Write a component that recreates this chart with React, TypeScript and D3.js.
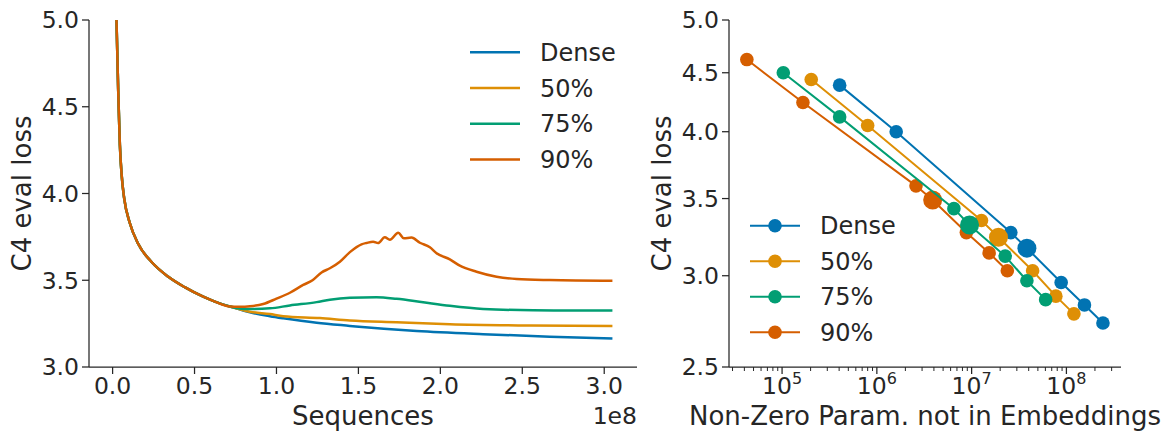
import React from "react";
import * as d3 from "d3";

// ---------- shared ----------
const seriesNames = ["Dense", "50%", "75%", "90%"];
const seriesColors = ["#0173B2", "#DE8F05", "#029E73", "#D55E00"];

// ---------- left panel: loss vs sequences (x in units of 1e8) ----------
const warmupSeq = [0.016, 0.024, 0.034, 0.04, 0.0445, 0.055, 0.071, 0.105, 0.156, 0.238, 0.34, 0.44, 0.553, 0.624, 0.716];
const warmupLoss = [5.4, 4.99, 4.6, 4.41, 4.28, 4.11, 3.97, 3.83, 3.71, 3.605, 3.52, 3.46, 3.405, 3.377, 3.349];

const denseSeq = [0.838, 0.96, 1.041, 1.245, 1.448, 1.655, 1.855, 2.261, 2.668, 3.05];
const denseLoss = [3.315, 3.293, 3.281, 3.255, 3.237, 3.22, 3.207, 3.189, 3.175, 3.164];

const sparse50Seq = [0.838, 0.96, 1.041, 1.265, 1.448, 1.733, 2.058, 2.546, 3.05];
const sparse50Loss = [3.319, 3.305, 3.293, 3.282, 3.268, 3.258, 3.247, 3.239, 3.236];

const sparse75Seq = [0.818, 0.96, 1.082, 1.245, 1.326, 1.448, 1.61, 1.733, 1.895, 2.058, 2.261, 2.566, 3.05];
const sparse75Loss = [3.334, 3.338, 3.355, 3.374, 3.388, 3.399, 3.402, 3.393, 3.373, 3.353, 3.335, 3.327, 3.325];

const sparse90Seq = [0.777, 0.838, 0.919, 1.0, 1.082, 1.163, 1.22, 1.275, 1.326, 1.387, 1.448, 1.519, 1.55, 1.59, 1.62, 1.661, 1.692, 1.743, 1.777, 1.824, 1.875, 1.936, 1.977, 2.058, 2.119, 2.221, 2.343, 2.465, 2.668, 3.05];
const sparse90Loss = [3.347, 3.35, 3.363, 3.394, 3.428, 3.473, 3.5, 3.545, 3.569, 3.607, 3.662, 3.707, 3.715, 3.722, 3.714, 3.748, 3.734, 3.774, 3.742, 3.746, 3.716, 3.69, 3.656, 3.62, 3.584, 3.549, 3.52, 3.507, 3.501, 3.497];

const leftXTicks = [0.0, 0.5, 1.0, 1.5, 2.0, 2.5, 3.0];
const leftYTicks = [3.0, 3.5, 4.0, 4.5, 5.0];

// ---------- right panel: loss vs non-zero params ----------
const denseParams = [4.05e5, 1.6e6, 2.59e7, 3.83e7, 8.8e7, 1.55e8, 2.43e8];
const denseFinal = [4.39, 4.0, 3.27, 3.17, 2.96, 2.83, 2.73];
const sparse50Params = [2.03e5, 8.0e5, 1.27e7, 1.92e7, 4.4e7, 7.74e7, 1.2e8];
const sparse50Final = [4.44, 4.05, 3.35, 3.24, 3.03, 2.88, 2.78];
const sparse75Params = [1.03e5, 4.05e5, 6.5e6, 9.5e6, 2.26e7, 3.83e7, 6.04e7];
const sparse75Final = [4.5, 4.12, 3.43, 3.32, 3.12, 2.97, 2.86];
const sparse90Params = [4.25e4, 1.66e5, 2.59e6, 3.88e6, 8.8e6, 1.53e7, 2.38e7];
const sparse90Final = [4.62, 4.24, 3.59, 3.49, 3.27, 3.14, 3.03];
const highlightIndex = [3, 3, 3, 3];

const rightXTicks = [1e5, 1e6, 1e7, 1e8];
const rightXExponents = ["5", "6", "7", "8"];
const rightYTicks = [2.5, 3.0, 3.5, 4.0, 4.5, 5.0];

const FONT = "DejaVu Sans, sans-serif";
const INK = "#262626";
const TICK_FS = 23.5;

export default function App() {
  const L = { x0: 89, x1: 637, y0: 20, y1: 367 };
  const xL = d3.scaleLinear().domain([-0.144, 3.2]).range([L.x0, L.x1]);
  const yL = d3.scaleLinear().domain([3.0, 5.0]).range([L.y1, L.y0]);

  const R = { x0: 729, x1: 1121, y0: 20, y1: 367 };
  const xR = d3.scaleLog().domain([Math.pow(10, 4.44), Math.pow(10, 8.576)]).range([R.x0, R.x1]);
  const yR = d3.scaleLog().domain([2.5, 5.0]).range([R.y1, R.y0]);

  const leftSeries = [
    [denseSeq, denseLoss],
    [sparse50Seq, sparse50Loss],
    [sparse75Seq, sparse75Loss],
    [sparse90Seq, sparse90Loss],
  ].map(([xs, ys]) => {
    const pts: [number, number][] = warmupSeq.map((x, i) => [x, warmupLoss[i]]);
    xs.forEach((x, i) => pts.push([x, ys[i]]));
    return pts;
  });

  const rightSeries = [
    [denseParams, denseFinal],
    [sparse50Params, sparse50Final],
    [sparse75Params, sparse75Final],
    [sparse90Params, sparse90Final],
  ].map(([xs, ys]) => xs.map((x, i) => [x, ys[i]] as [number, number]));

  const lineL = d3.line<[number, number]>().x((d) => xL(d[0])).y((d) => yL(d[1])).curve(d3.curveMonotoneX);
  const lineR = d3.line<[number, number]>().x((d) => xR(d[0])).y((d) => yR(d[1]));

  const minorTicks: number[] = [];
  for (let e = 4; e <= 8; e++) {
    for (let m = 2; m <= 9; m++) {
      const v = m * Math.pow(10, e);
      if (v >= xR.domain()[0] && v <= xR.domain()[1]) minorTicks.push(v);
    }
  }

  const drawOrderRight = [0, 1, 3, 2];

  return (
    <svg
      width={1174}
      height={432}
      style={{ position: "absolute", left: 0, top: 0, background: "#fff" }}
      fontFamily={FONT}
    >
      <defs>
        <clipPath id="clipL">
          <rect x={L.x0} y={L.y0} width={L.x1 - L.x0} height={L.y1 - L.y0} />
        </clipPath>
      </defs>

      {/* ---------------- LEFT PANEL ---------------- */}
      <g clipPath="url(#clipL)">
        {leftSeries.map((pts, i) => (
          <path key={i} d={lineL(pts) || ""} fill="none" stroke={seriesColors[i]} strokeWidth={2.5} strokeLinejoin="round" />
        ))}
      </g>
      <line x1={L.x0} x2={L.x0} y1={L.y0} y2={L.y1} stroke={INK} strokeWidth={1.25} />
      <line x1={L.x0} x2={L.x1} y1={L.y1} y2={L.y1} stroke={INK} strokeWidth={1.25} />
      {leftYTicks.map((t) => (
        <g key={t}>
          <line x1={L.x0 - 7} x2={L.x0} y1={yL(t)} y2={yL(t)} stroke={INK} strokeWidth={1.25} />
          <text x={L.x0 - 10} y={yL(t)} dy="0.36em" textAnchor="end" fontSize={TICK_FS} fill={INK}>
            {t.toFixed(1)}
          </text>
        </g>
      ))}
      {leftXTicks.map((t) => (
        <g key={t}>
          <line x1={xL(t)} x2={xL(t)} y1={L.y1} y2={L.y1 + 7} stroke={INK} strokeWidth={1.25} />
          <text x={xL(t)} y={394} textAnchor="middle" fontSize={TICK_FS} fill={INK}>
            {t.toFixed(1)}
          </text>
        </g>
      ))}
      <text x={L.x1} y={424} textAnchor="end" fontSize={TICK_FS} fill={INK}>1e8</text>
      <text x={(L.x0 + L.x1) / 2} y={425} textAnchor="middle" fontSize={26} fill={INK}>Sequences</text>
      <text transform={`translate(31,${(L.y0 + L.y1) / 2}) rotate(-90)`} textAnchor="middle" fontSize={26} fill={INK}>
        C4 eval loss
      </text>
      {seriesNames.map((n, i) => {
        const y = 52.3 + i * 35.7;
        return (
          <g key={n}>
            <line x1={470} x2={520} y1={y} y2={y} stroke={seriesColors[i]} strokeWidth={2.5} />
            <text x={540} y={y} dy="0.36em" fontSize={24} fill={INK}>{n}</text>
          </g>
        );
      })}

      {/* ---------------- RIGHT PANEL ---------------- */}
      {drawOrderRight.map((i) => (
        <g key={i}>
          <path d={lineR(rightSeries[i]) || ""} fill="none" stroke={seriesColors[i]} strokeWidth={2} />
          {rightSeries[i].map((d, j) => (
            <circle key={j} cx={xR(d[0])} cy={yR(d[1])} r={j === highlightIndex[i] ? 9.5 : 6.8} fill={seriesColors[i]} />
          ))}
        </g>
      ))}
      <line x1={R.x0} x2={R.x0} y1={R.y0} y2={R.y1} stroke={INK} strokeWidth={1.25} />
      <line x1={R.x0} x2={R.x1} y1={R.y1} y2={R.y1} stroke={INK} strokeWidth={1.25} />
      {rightYTicks.map((t) => (
        <g key={t}>
          <line x1={R.x0 - 7} x2={R.x0} y1={yR(t)} y2={yR(t)} stroke={INK} strokeWidth={1.25} />
          <text x={R.x0 - 10} y={yR(t)} dy="0.36em" textAnchor="end" fontSize={TICK_FS} fill={INK}>
            {t.toFixed(1)}
          </text>
        </g>
      ))}
      {minorTicks.map((t) => (
        <line key={t} x1={xR(t)} x2={xR(t)} y1={R.y1} y2={R.y1 + 4} stroke={INK} strokeWidth={1} />
      ))}
      {rightXTicks.map((t, i) => (
        <g key={t}>
          <line x1={xR(t)} x2={xR(t)} y1={R.y1} y2={R.y1 + 7} stroke={INK} strokeWidth={1.25} />
          <text x={xR(t)} y={394} textAnchor="middle" fontSize={TICK_FS} fill={INK}>
            <tspan>10</tspan>
            <tspan dy={-10} fontSize={16}>{rightXExponents[i]}</tspan>
          </text>
        </g>
      ))}
      <text x={(R.x0 + R.x1) / 2} y={425} textAnchor="middle" fontSize={26} fill={INK}>
        Non-Zero Param. not in Embeddings
      </text>
      <text transform={`translate(671,${(R.y0 + R.y1) / 2}) rotate(-90)`} textAnchor="middle" fontSize={26} fill={INK}>
        C4 eval loss
      </text>
      {seriesNames.map((n, i) => {
        const y = 225.7 + i * 35.5;
        return (
          <g key={n}>
            <line x1={750} x2={800} y1={y} y2={y} stroke={seriesColors[i]} strokeWidth={2} />
            <circle cx={775} cy={y} r={6.8} fill={seriesColors[i]} />
            <text x={820} y={y} dy="0.36em" fontSize={24} fill={INK}>{n}</text>
          </g>
        );
      })}
    </svg>
  );
}
